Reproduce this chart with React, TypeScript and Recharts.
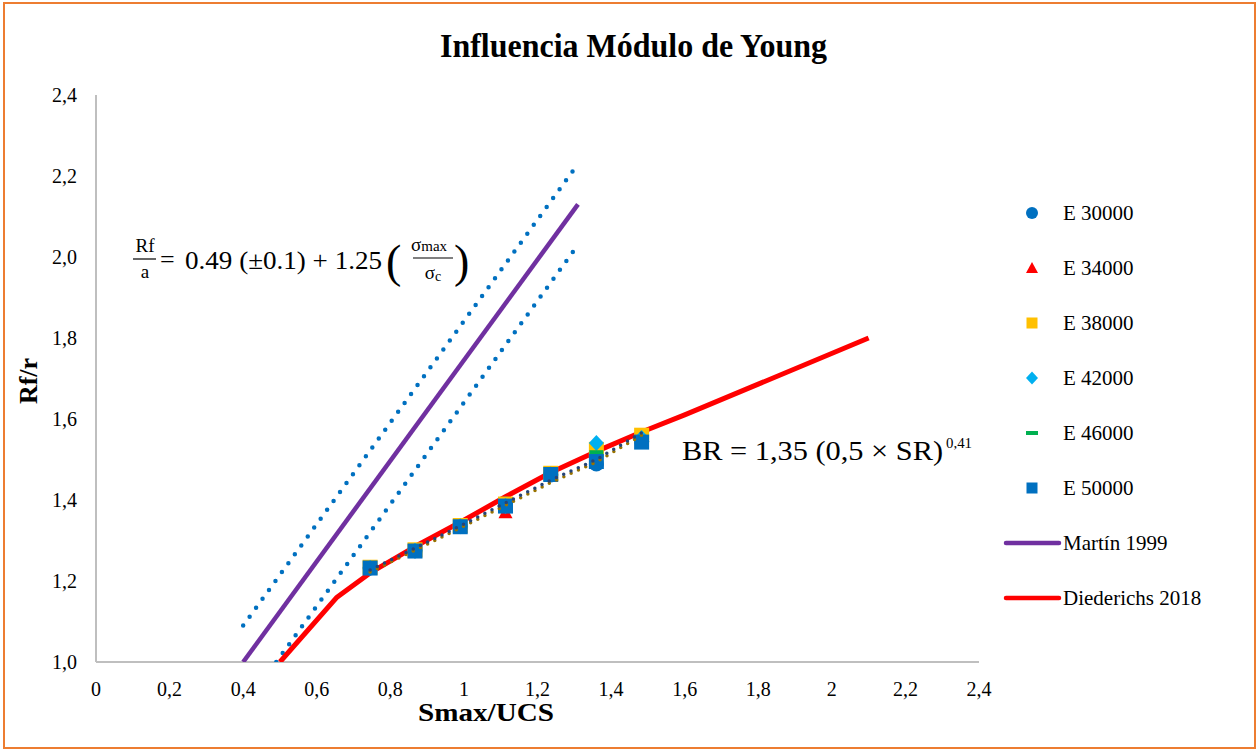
import React from 'react';
import { ScatterChart, Scatter, XAxis, YAxis } from 'recharts';

const xTicks = [0, 0.2, 0.4, 0.6, 0.8, 1, 1.2, 1.4, 1.6, 1.8, 2, 2.2, 2.4];
const yTicks = [1.0, 1.2, 1.4, 1.6, 1.8, 2.0, 2.2, 2.4];

const xPts = [0.745, 0.867, 0.99, 1.113, 1.236, 1.36, 1.483];
const e30000 = [1.232, 1.275, 1.335, 1.39, 1.462, 1.489, 1.545];
const e34000 = [1.232, 1.275, 1.335, 1.37, 1.462, 1.5, 1.55];
const e38000 = [1.234, 1.277, 1.337, 1.39, 1.466, 1.525, 1.56];
const e42000 = [1.232, 1.275, 1.335, 1.385, 1.463, 1.541, 1.553];
const e46000 = [1.232, 1.275, 1.335, 1.385, 1.463, 1.518, 1.55];
const e50000 = [1.232, 1.274, 1.334, 1.385, 1.463, 1.495, 1.543];

const trendNavy = [1.227, 1.281, 1.336, 1.393, 1.449, 1.5, 1.566];
const trendOlive = [1.222, 1.276, 1.331, 1.387, 1.443, 1.494, 1.56];

const martinX = [0.4, 1.31];
const martinY = [1.0, 2.13];
const upperX = [0.4, 1.31];
const upperY = [1.09, 2.23];
const lowerX = [0.49, 1.31];
const lowerY = [1.0, 2.03];

const diedX = [0.5, 0.655, 0.745, 0.867, 0.99, 1.113, 1.236, 1.36, 1.483, 1.6, 1.8, 2.1];
const diedY = [1.0, 1.16, 1.22, 1.285, 1.345, 1.408, 1.468, 1.52, 1.568, 1.61, 1.686, 1.8];

const legendLabels = ['E 30000', 'E 34000', 'E 38000', 'E 42000', 'E 46000', 'E 50000', 'Martín 1999', 'Diederichs 2018'];

const zip = (xs: number[], ys: number[]) => xs.map((x, i) => ({ x, y: ys[i] }));

const SERIF = '"Liberation Serif", "Times New Roman", serif';

const fmtX = (v: number) => (Number.isInteger(v) ? String(v) : v.toFixed(1).replace('.', ','));
const fmtY = (v: number) => v.toFixed(1).replace('.', ',');

const none = () => <g />;

const Circle = (p: any) => <circle cx={p.cx} cy={p.cy} r={7.5} fill="#0070C0" />;
const Tri = (p: any) => (
  <polygon points={`${p.cx},${p.cy - 7} ${p.cx + 7},${p.cy + 6} ${p.cx - 7},${p.cy + 6}`} fill="#FF0000" />
);
const SqY = (p: any) => <rect x={p.cx - 7.5} y={p.cy - 7.5} width={15} height={15} fill="#FFC000" />;
const Dia = (p: any) => (
  <polygon points={`${p.cx},${p.cy - 8} ${p.cx + 7.5},${p.cy} ${p.cx},${p.cy + 8} ${p.cx - 7.5},${p.cy}`} fill="#00B0F0" />
);
const Dash = (p: any) => <rect x={p.cx - 7} y={p.cy - 2} width={14} height={4} fill="#00B050" />;
const SqB = (p: any) => <rect x={p.cx - 7.5} y={p.cy - 7.5} width={15} height={15} fill="#0070C0" />;

export default function App() {
  const lm = 1032;
  const rows = [213, 268, 323, 378, 433, 488, 543, 598];
  return (
    <div style={{ position: 'absolute', left: 0, top: 0, width: 1260, height: 751, background: '#fff' }}>
      <div
        style={{
          position: 'absolute',
          left: 3,
          top: 2,
          width: 1253,
          height: 747,
          border: '2px solid #ED7D31',
          boxSizing: 'border-box',
        }}
      />
      <div style={{ position: 'absolute', left: 0, top: 0 }}>
        <ScatterChart width={1260} height={751} margin={{ top: 95, right: 281, bottom: 59, left: 36 }}>
          <XAxis
            type="number"
            dataKey="x"
            domain={[0, 2.4]}
            ticks={xTicks}
            allowDataOverflow
            tickFormatter={fmtX}
            tickLine={false}
            tickSize={0}
            tickMargin={20}
            height={30}
            axisLine={{ stroke: '#BFBFBF', strokeWidth: 2 }}
            tick={{ fill: '#000', fontSize: 20, fontFamily: SERIF }}
          />
          <YAxis
            type="number"
            dataKey="y"
            domain={[1, 2.4]}
            ticks={yTicks}
            allowDataOverflow
            tickFormatter={fmtY}
            tickLine={false}
            tickSize={0}
            tickMargin={19}
            width={60}
            axisLine={{ stroke: '#BFBFBF', strokeWidth: 2 }}
            tick={{ fill: '#000', fontSize: 20, fontFamily: SERIF }}
          />
          <Scatter data={zip(upperX, upperY)} shape={none} line={{ stroke: '#0070C0', strokeWidth: 4.5, strokeDasharray: '0 11', strokeLinecap: 'round' }} lineType="joint" isAnimationActive={false} />
          <Scatter data={zip(lowerX, lowerY)} shape={none} line={{ stroke: '#0070C0', strokeWidth: 4.5, strokeDasharray: '0 11', strokeLinecap: 'round' }} lineType="joint" isAnimationActive={false} />
          <Scatter data={zip(martinX, martinY)} shape={none} line={{ stroke: '#7030A0', strokeWidth: 4.5 }} lineType="joint" isAnimationActive={false} />
          <Scatter data={zip(diedX, diedY)} shape={none} line={{ stroke: '#FF0000', strokeWidth: 5, strokeLinejoin: 'round' }} lineType="joint" isAnimationActive={false} />
          <Scatter data={zip(xPts, e30000)} shape={Circle} isAnimationActive={false} />
          <Scatter data={zip(xPts, e34000)} shape={Tri} isAnimationActive={false} />
          <Scatter data={zip(xPts, e38000)} shape={SqY} isAnimationActive={false} />
          <Scatter data={zip(xPts, e42000)} shape={Dia} isAnimationActive={false} />
          <Scatter data={zip(xPts, e46000)} shape={Dash} isAnimationActive={false} />
          <Scatter data={zip(xPts, e50000)} shape={SqB} isAnimationActive={false} />
          <Scatter data={zip(xPts, trendOlive)} shape={none} line={{ stroke: '#997300', strokeWidth: 3.5, strokeDasharray: '0 8', strokeLinecap: 'round' }} lineType="joint" isAnimationActive={false} />
          <Scatter data={zip(xPts, trendNavy)} shape={none} line={{ stroke: '#264478', strokeWidth: 3.5, strokeDasharray: '0 8', strokeLinecap: 'round' }} lineType="joint" isAnimationActive={false} />
        </ScatterChart>
      </div>
      <svg width={1260} height={751} style={{ position: 'absolute', left: 0, top: 0, pointerEvents: 'none' }}>
        <text x={440} y={57} fontFamily={SERIF} fontWeight="bold" fontSize={33} textLength={387} lengthAdjust="spacingAndGlyphs" fill="#000">
          Influencia Módulo de Young
        </text>
        <text x={0} y={0} transform="translate(37,381) rotate(-90)" textAnchor="middle" fontFamily={SERIF} fontWeight="bold" fontSize={26} fill="#000">
          Rf/r
        </text>
        <text x={418} y={721} fontFamily={SERIF} fontWeight="bold" fontSize={25} textLength={136} lengthAdjust="spacingAndGlyphs" fill="#000">
          Smax/UCS
        </text>

        {/* Equation 1 */}
        <g fontFamily={SERIF} fill="#000">
          <text x={145} y={252} textAnchor="middle" fontSize={19}>Rf</text>
          <line x1={133} x2={156} y1={259} y2={259} stroke="#000" strokeWidth={1.2} />
          <text x={145} y={278} textAnchor="middle" fontSize={19}>a</text>
          <text x={160} y={268} fontSize={26}>=</text>
          <text x={185} y={269} fontSize={26} textLength={197} lengthAdjust="spacingAndGlyphs">0.49 (±0.1) + 1.25</text>
          <text x={386} y={277} fontSize={46} fontWeight={100}>(</text>
          <text x={411} y={251} fontSize={19}>σ<tspan fontSize={15}>max</tspan></text>
          <line x1={413} x2={453} y1={258} y2={258} stroke="#000" strokeWidth={1.2} />
          <text x={433} y={279} textAnchor="middle" fontSize={19}>σ<tspan fontSize={14} dy={2}>c</tspan></text>
          <text x={454} y={277} fontSize={46} fontWeight={100}>)</text>
        </g>

        {/* Equation 2 */}
        <g fontFamily={SERIF} fill="#000">
          <text x={682} y={460} fontSize={27} textLength={261} lengthAdjust="spacingAndGlyphs">BR = 1,35 (0,5 × SR)</text>
          <text x={946} y={448} fontSize={15} textLength={26} lengthAdjust="spacingAndGlyphs">0,41</text>
        </g>

        {/* Legend */}
        <circle cx={lm} cy={rows[0]} r={6} fill="#0070C0" />
        <polygon points={`${lm},${rows[1] - 6} ${lm + 6},${rows[1] + 5} ${lm - 6},${rows[1] + 5}`} fill="#FF0000" />
        <rect x={lm - 5.5} y={rows[2] - 5.5} width={11} height={11} fill="#FFC000" />
        <polygon points={`${lm},${rows[3] - 6.5} ${lm + 6},${rows[3]} ${lm},${rows[3] + 6.5} ${lm - 6},${rows[3]}`} fill="#00B0F0" />
        <rect x={lm - 6} y={rows[4] - 2} width={12} height={4} fill="#00B050" />
        <rect x={lm - 5.5} y={rows[5] - 5.5} width={11} height={11} fill="#0070C0" />
        <line x1={1006} x2={1059} y1={rows[6]} y2={rows[6]} stroke="#7030A0" strokeWidth={4.5} strokeLinecap="round" />
        <line x1={1006} x2={1059} y1={rows[7]} y2={rows[7]} stroke="#FF0000" strokeWidth={4.5} strokeLinecap="round" />
        {legendLabels.map((l, i) => (
          <text key={l} x={1063} y={rows[i] + 7} fontFamily={SERIF} fontSize={21} fill="#000">
            {l}
          </text>
        ))}
      </svg>
    </div>
  );
}
